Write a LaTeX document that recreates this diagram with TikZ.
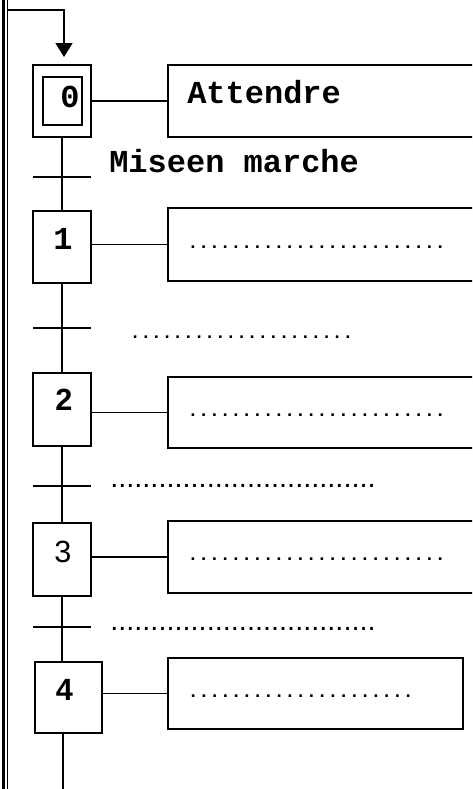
\documentclass[tikz,border=0pt]{standalone}
\usepackage{fontspec}
\setmainfont{Liberation Serif}
\newfontfamily\monofnt{Liberation Mono}
\newfontfamily\sansfnt{Liberation Sans}
\usetikzlibrary{arrows.meta}
\begin{document}
\begin{tikzpicture}[x=0.75pt,y=-0.75pt,
  stepbox/.style={draw, line width=1.2pt, inner sep=0pt, outer sep=0pt},
  actbox/.style={draw, line width=1.5pt, inner sep=0pt, outer sep=0pt},
  link/.style={line width=1.1pt},
  tick/.style={line width=1.1pt},
  monobig/.style={inner sep=0pt, font=\monofnt\bfseries\fontsize{24}{28}\selectfont},
  numsans/.style={inner sep=0pt, anchor=base, font=\sansfnt\bfseries\fontsize{23}{27}\selectfont},
  dotsbig/.style={inner sep=0pt, anchor=base west, font=\monofnt\bfseries\fontsize{13.44}{16}\selectfont},
  dotsmid/.style={inner sep=0pt, anchor=base west, font=\monofnt\bfseries\fontsize{13.29}{16}\selectfont},
  dotssmall/.style={inner sep=0pt, anchor=base west, font=\sansfnt\fontsize{21.7}{24}\selectfont}]
\useasboundingbox (0,0) rectangle (472,789);
\clip (0,0) rectangle (472,789);
\fill[white] (0,0) rectangle (472,789);

% left rail
\coordinate (railA) at (3.5,0);
\coordinate (railAb) at (3.5,789);
\coordinate (railB) at (7.5,0);
\coordinate (railBb) at (7.5,789);
\draw[line width=2.8pt] (railA) -- (railAb);
\draw[line width=0.9pt] (railB) -- (railBb);

% steps
\node[stepbox, minimum width=43.5pt, minimum height=54pt] (s0) at (62,101) {};
\node[stepbox, minimum width=29.25pt, minimum height=36pt] (s0i) at (62.5,101) {};
\node[stepbox, minimum width=43.5pt, minimum height=54pt] (s1) at (62,247) {};
\node[stepbox, minimum width=43.5pt, minimum height=54.75pt] (s2) at (62,409.5) {};
\node[stepbox, minimum width=43.5pt, minimum height=54.75pt] (s3) at (62,559.5) {};
\node[stepbox, minimum width=50.25pt, minimum height=53.25pt] (s4) at (68.5,697.5) {};

% step numbers
\node[monobig, anchor=base] (n0) at (70,107) {0};
\node[monobig, anchor=base] (n1) at (63,249) {1};
\node[numsans] (n2) at (64,410) {2};
\node[numsans, font=\sansfnt\fontsize{23}{27}\selectfont] (n3) at (63,562) {3};
\node[numsans] (n4) at (64.5,700) {4};

% action boxes
\node[actbox, minimum width=241.5pt, minimum height=54pt] (a0) at (329,101) {};
\node[actbox, minimum width=241.5pt, minimum height=54.75pt] (a1) at (329,244.5) {};
\node[actbox, minimum width=241.5pt, minimum height=53.25pt] (a2) at (329,412.5) {};
\node[actbox, minimum width=241.5pt, minimum height=54pt] (a3) at (329,557) {};
\node[actbox, minimum width=221.25pt, minimum height=53.25pt] (a4) at (315.5,693.5) {};

% action texts
\node[monobig, anchor=base west] (x0) at (187,103) {Attendre};
\node[dotsbig] (x1) at (187.3,248) {........................};
\node[dotsbig] (x2) at (187.3,416) {........................};
\node[dotsbig] (x3) at (187.3,560) {........................};
\node[dotsbig] (x4) at (187.6,697) {.....................};

% links step -> action
\draw[link] (a0.west -| s0.east) -- (a0.west);
\draw[link] (a1.west -| s1.east) -- (a1.west);
\draw[link] (a2.west -| s2.east) -- (a2.west);
\draw[link] (a3.west -| s3.east) -- (a3.west);
\draw[link] (a4.west -| s4.east) -- (a4.west);

% initial loop arrow
\coordinate (loopstart) at (7.5,10);
\coordinate (loopend) at (64,57);
\draw[link, -{Triangle[width=12.75pt,length=10.5pt]}] (loopstart) -| (loopend);

% vertical links
\draw[link] (s0.south) -- (s1.north);
\draw[link] (s1.south) -- (s2.north);
\draw[link] (s2.south) -- (s3.north);
\draw[link] (s3.south) -- (s3.south |- s4.north);
\coordinate (bottom) at (63,789);
\draw[link] (bottom |- s4.south) -- (bottom);

% transitions
\coordinate (t0) at (62,177);
\coordinate (t1) at (62,328);
\coordinate (t2) at (62,486);
\coordinate (t3) at (62,627);
\foreach \t in {t0,t1,t2,t3}{
  \draw[tick] ([xshift=-21.75pt]\t) -- ([xshift=21.75pt]\t);
}

% transition labels
\node[monobig, anchor=base west] (r0) at (109,172) {Miseen marche};
\node[dotsmid] (r1) at (129.7,338) {.....................};
\node[dotssmall] (r2) at (110,487.5) {.................................};
\node[dotssmall] (r3) at (110,630.5) {.................................};
\end{tikzpicture}
\end{document}
